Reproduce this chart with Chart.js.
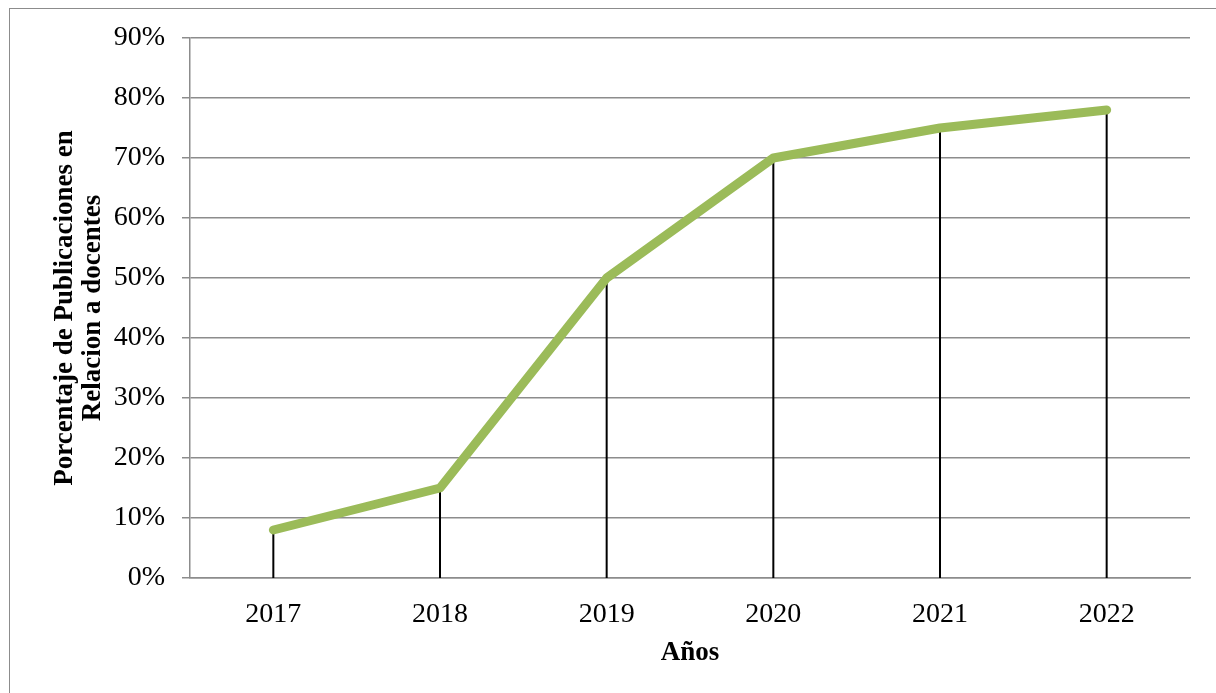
<!DOCTYPE html>
<html>
<head>
<meta charset="utf-8">
<script src="https://cdn.jsdelivr.net/npm/chart.js"></script>
<style>
    body { margin: 0; background: #fff; }
    .marco {
        position: absolute;
        left: 0; top: 0;
        width: 1216px; height: 693px;
    }
    .borde {
        position: absolute;
        left: 9px; top: 8px;
        width: 1240px; height: 720px;
        border: 1.5px solid #8c8c8c;
        box-sizing: border-box;
    }
</style>
</head>
<body>
<div class="borde"></div>
<div class="marco"><canvas id="lineChart" width="1216" height="693"></canvas></div>
<script>
// Datos del gráfico
const anios = ['2017', '2018', '2019', '2020', '2021', '2022'];
const porcentajes = [8, 15, 50, 70, 75, 78];
const ticksY = [0, 10, 20, 30, 40, 50, 60, 70, 80, 90];

// Líneas verticales desde cada punto hasta el eje X
const lineasCaida = {
    id: 'lineasCaida',
    beforeDatasetsDraw(chart) {
        const ctx = chart.ctx;
        const meta = chart.getDatasetMeta(0);
        const fondo = chart.scales.y.getPixelForValue(0);
        ctx.save();
        ctx.strokeStyle = '#000';
        ctx.lineWidth = 2;
        meta.data.forEach(p => {
            ctx.beginPath();
            ctx.moveTo(p.x, p.y);
            ctx.lineTo(p.x, fondo);
            ctx.stroke();
        });
        ctx.restore();
    }
};

const fuente = "'Liberation Serif', serif";

new Chart(document.getElementById('lineChart').getContext('2d'), {
    type: 'line',
    data: {
        labels: anios,
        datasets: [{
            data: porcentajes,
            borderColor: '#9bbb59',
            borderWidth: 9,
            borderCapStyle: 'round',
            borderJoinStyle: 'round',
            pointRadius: 0,
            tension: 0,
            fill: false
        }]
    },
    options: {
        responsive: false,
        animation: false,
        layout: { padding: { top: 38, right: 26, left: 0, bottom: 0 } },
        plugins: {
            legend: { display: false },
            tooltip: { enabled: false }
        },
        scales: {
            x: {
                offset: true,
                grid: { display: false },
                border: { color: '#8c8c8c', width: 1.5 },
                ticks: { color: '#000', font: { family: fuente, size: 28 }, padding: 12 },
                title: {
                    display: true,
                    text: 'Años',
                    color: '#000',
                    font: { family: fuente, size: 27, weight: 'bold' },
                    padding: { top: 4, bottom: 24 }
                },
                afterFit(scale) { scale.height = 115; }
            },
            y: {
                min: 0,
                max: 90,
                afterBuildTicks(scale) { scale.ticks = ticksY.map(v => ({ value: v })); },
                grid: { color: '#8c8c8c', lineWidth: 1.5, tickLength: 8 },
                border: { color: '#8c8c8c', width: 1.5 },
                ticks: {
                    color: '#000',
                    font: { family: fuente, size: 28 },
                    padding: 17,
                    callback: v => v + '%'
                },
                title: {
                    display: true,
                    text: ['Porcentaje de Publicaciones en', 'Relacion a docentes'],
                    color: '#000',
                    font: { family: fuente, size: 27, weight: 'bold', lineHeight: 1.04 },
                    padding: { top: 51 }
                },
                afterFit(scale) { scale.width = 190; }
            }
        }
    },
    plugins: [lineasCaida]
});
</script>
</body>
</html>
